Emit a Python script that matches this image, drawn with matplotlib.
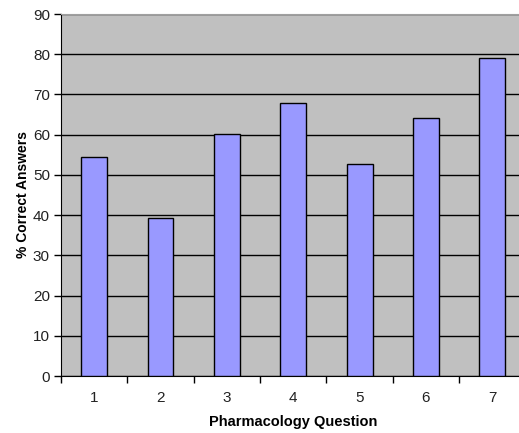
import matplotlib.pyplot as plt

plt.rcParams['font.family'] = ['Liberation Sans', 'DejaVu Sans']

# Share of correct answers per question
questions = ["1", "2", "3", "4", "5", "6", "7"]
pct_correct = [54.4, 39.2, 60.2, 67.9, 52.8, 64.1, 79.1]

fig = plt.figure(figsize=(5.19, 4.33), dpi=100)
# plot area runs a little past the right edge of the figure
ax = fig.add_axes([61 / 519, 57 / 433, 464.5 / 519, 362 / 433])
ax.set_facecolor('#C0C0C0')

x = list(range(1, len(questions) + 1))
ax.bar(x, pct_correct, width=0.39, color='#9999FF', edgecolor='black',
       linewidth=1, zorder=3)

ax.set_ylim(0, 90)
ax.set_yticks(range(0, 91, 10))
ax.yaxis.grid(True, color='black', linewidth=1, zorder=1)
ax.set_axisbelow(True)

ax.set_xlim(0.5, 7.5)
ax.set_xticks(x)
ax.set_xticklabels(questions)
# ticks between categories on the x axis
ax.set_xticks([i + 0.5 for i in range(0, 8)], minor=True)
ax.tick_params(axis='x', which='major', length=0, pad=11, labelsize=11,
               labelcolor='#222222')
ax.tick_params(axis='x', which='minor', length=5, width=1, direction='out')
ax.tick_params(axis='y', length=5, width=1, direction='out', pad=3, labelsize=11,
               labelcolor='#222222')

ax.spines['right'].set_visible(False)
ax.spines['top'].set_color('#A0A0A0')
ax.spines['left'].set_color('black')
ax.spines['bottom'].set_color('black')

ax.set_xlabel('Pharmacology Question', fontsize=10.5, fontweight='bold', labelpad=7)
ax.set_ylabel('% Correct Answers', fontsize=10, fontweight='bold', labelpad=2)

fig.savefig('out.png', dpi=100)
